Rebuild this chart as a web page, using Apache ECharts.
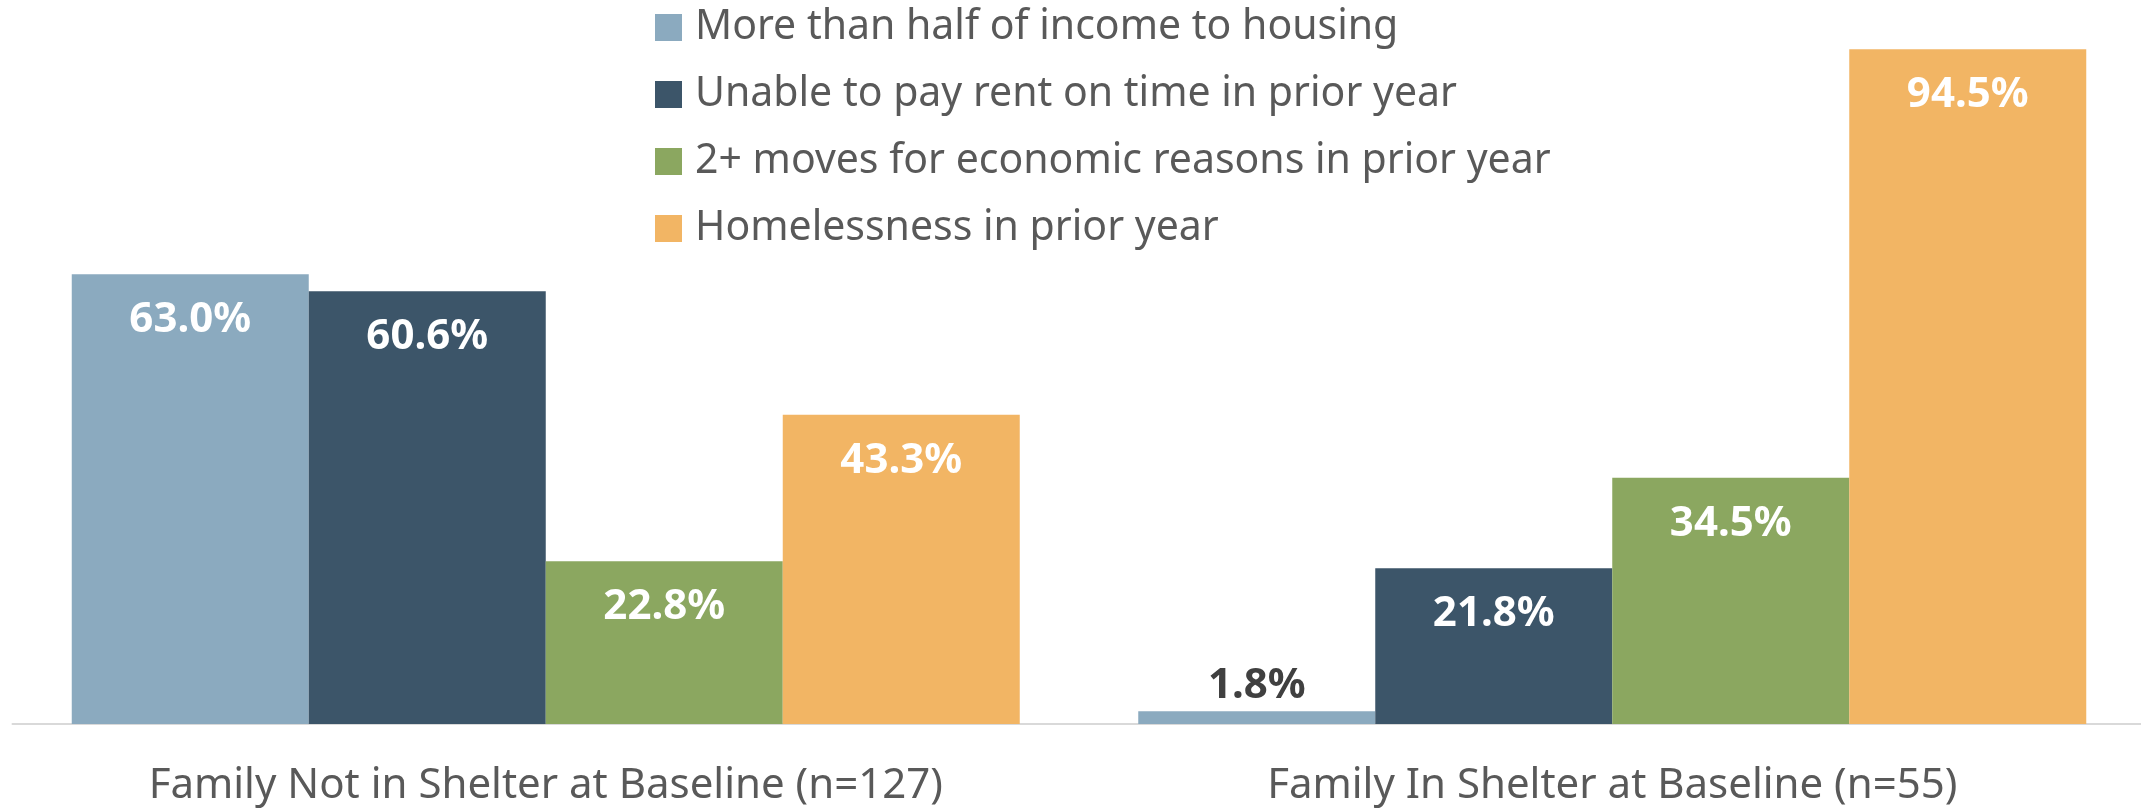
<!DOCTYPE html>
<html>
<head>
<meta charset="utf-8">
<script src="https://cdn.jsdelivr.net/npm/echarts@6/dist/echarts.min.js"></script>
<style>
html,body{margin:0;padding:0;background:#fff;}
#chart{width:2141px;height:811px;}
</style>
</head>
<body>
<div id="chart"></div>
<script>
const categories = ['Family Not in Shelter at Baseline (n=127)', 'Family In Shelter at Baseline (n=55)'];
const seriesNames = ['More than half of income to housing', 'Unable to pay rent on time in prior year', '2+ moves for economic reasons in prior year', 'Homelessness in prior year'];
const incomeToHousing = [63.0, 1.8];
const unableToPayRent = [60.6, 21.8];
const economicMoves = [22.8, 34.5];
const homelessness = [43.3, 94.5];
const colors = ['#8BAABF', '#3C5569', '#8BA760', '#F2B564'];

const valueSets = [incomeToHousing, unableToPayRent, economicMoves, homelessness];
const FONT = 'Noto Sans';

const chart = echarts.init(document.getElementById('chart'), null, {renderer: 'canvas'});

function makeData(vals) {
  return vals.map(v => {
    const small = v < 10;
    return {
      value: v,
      label: small ? {position: 'top', color: '#404040', distance: 4} : {position: 'insideTop', color: '#ffffff', distance: 25}
    };
  });
}

const series = valueSets.map((vals, i) => ({
  name: seriesNames[i],
  type: 'bar',
  barWidth: 237,
  barGap: '0%',
  itemStyle: {color: colors[i]},
  data: makeData(vals),
  label: {
    show: true,
    fontFamily: FONT,
    fontWeight: 'bold',
    fontSize: 42,
    formatter: p => p.value.toFixed(1) + '%'
  },
  emphasis: {disabled: true}
}));

chart.setOption({
  animation: false,
  color: colors,
  legend: {
    orient: 'vertical',
    left: 655,
    top: 7,
    padding: 0,
    icon: 'rect',
    itemWidth: 27,
    itemHeight: 27,
    itemGap: 26,
    textStyle: {fontFamily: FONT, fontSize: 41, color: '#595959', lineHeight: 40, padding: [0, 0, 0, 8]},
    data: seriesNames
  },
  grid: {left: 12.5, width: 2133, top: 10, bottom: 87, outerBoundsMode: 'none'},
  xAxis: {
    type: 'category',
    data: categories,
    axisTick: {show: false},
    axisLine: {lineStyle: {color: '#D9D9D9', width: 2}},
    axisLabel: {fontFamily: FONT, fontSize: 42, color: '#595959', margin: 41}
  },
  yAxis: {
    type: 'value',
    min: 0,
    max: 100,
    show: false,
    splitLine: {show: false}
  },
  series: series
});
</script>
</body>
</html>
